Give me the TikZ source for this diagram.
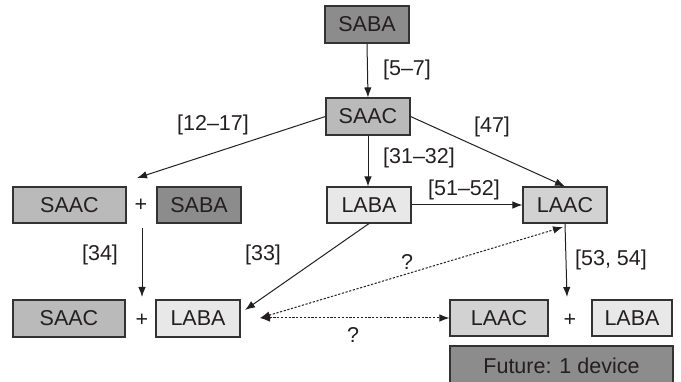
\documentclass[tikz,border=0pt]{standalone}
\usepackage{fontspec}
\setmainfont{Liberation Sans}
\usetikzlibrary{arrows.meta}
\definecolor{txt}{HTML}{231F20}
\definecolor{cdark}{HTML}{8C8C8C}
\definecolor{cmid}{HTML}{BABABA}
\definecolor{clight}{HTML}{E8E8E8}
\definecolor{claac}{HTML}{D2D2D2}
\definecolor{edge}{HTML}{333333}
\begin{document}
\begin{tikzpicture}[x=1pt,y=-1pt,
  font=\fontsize{21.5}{25}\selectfont,
  box/.style={draw=edge,line width=1.1pt,text=txt,inner sep=0pt,anchor=center},
  lbl/.style={text=txt,inner sep=0pt},
  arr/.style={line width=1pt,draw=txt,-{Latex[length=10pt,width=7.5pt]}},
  dots/.style={line width=1pt,draw=txt,dash pattern=on 2.2pt off 1.6pt,{Latex[length=10pt,width=7.5pt]}-{Latex[length=10pt,width=7.5pt]}}]
\useasboundingbox (0,0) rectangle (681,382);
% boxes
\node[box,fill=cdark,minimum width=84pt,minimum height=37pt] (saba) at (367,24.5) {SABA};
\node[box,fill=cmid,minimum width=84pt,minimum height=37pt] (saac) at (368,116.5) {SAAC};
\node[box,fill=cmid,minimum width=113pt,minimum height=36pt] (saacL) at (69.5,205) {SAAC};
\node[lbl] (plusA) at (141,205) {+};
\node[box,fill=cdark,minimum width=84pt,minimum height=36pt] (sabaL) at (199,205) {SABA};
\node[box,fill=clight,minimum width=84pt,minimum height=36pt] (laba) at (369,205) {LABA};
\node[box,fill=claac,minimum width=84pt,minimum height=36pt] (laac) at (565,205) {LAAC};
\node[box,fill=cmid,minimum width=112pt,minimum height=37pt] (saacB) at (69,318.5) {SAAC};
\node[lbl] (plusB) at (142,320) {+};
\node[box,fill=clight,minimum width=84pt,minimum height=37pt] (labaB) at (198,318.5) {LABA};
\node[box,fill=claac,minimum width=98pt,minimum height=36pt] (laacR) at (499,318) {LAAC};
\node[lbl] (plusC) at (570,320) {+};
\node[box,fill=clight,minimum width=80pt,minimum height=36pt] (labaR) at (632,318) {LABA};
\node[box,fill=cdark,minimum width=223pt,minimum height=40pt] (future) at (561.5,366) {Future: 1 device};
% free ends
\coordinate (tipA) at (137,178);
\coordinate (startB) at (142,228);
\coordinate (tipB) at (142,297);
\coordinate (tipC) at (245,310);
\coordinate (tipD) at (567,297);
\coordinate (dotL) at (260,318);
\coordinate (dotR) at (563,227);
% connectors
\draw[arr] (saba.south) -- (saac.north);
\draw[arr] (saac.west) -- (tipA);
\draw[arr] (saac.south) -- (saac.south |- laba.north);
\draw[arr] (saac.east) -- (laac.north);
\draw[arr] (laba.east) -- (laac.west);
\draw[arr] (startB) -- (tipB);
\draw[arr] (laba.south) -- (tipC);
\draw[arr] (laac.south) -- (tipD);
\draw[dots] (dotL) -- (dotR);
\draw[dots] (dotL) -- (laacR.west);
% labels
\node[lbl] (l57) at (407,70) {[5–7]};
\node[lbl] (l1217) at (213,125) {[12–17]};
\node[lbl] (l3132) at (419,158) {[31–32]};
\node[lbl] (l47) at (492,127) {[47]};
\node[lbl] (l5152) at (464,190) {[51–52]};
\node[lbl] (l34) at (100,255) {[34]};
\node[lbl] (l33) at (263,255) {[33]};
\node[lbl] (l5354) at (611,260) {[53, 54]};
\node[lbl] (q1) at (407,262) {?};
\node[lbl] (q2) at (353,335) {?};
\end{tikzpicture}
\end{document}
